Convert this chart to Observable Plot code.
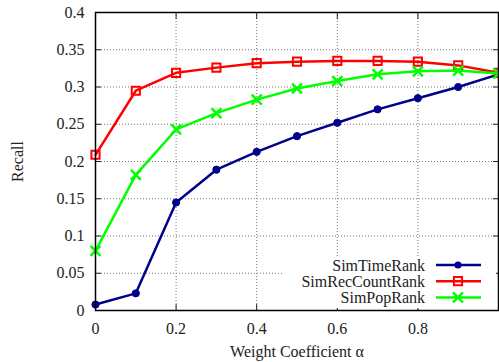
<!DOCTYPE html>
<html><head><meta charset="utf-8">
<script src="https://cdn.jsdelivr.net/npm/d3@7"></script>
<script src="https://cdn.jsdelivr.net/npm/@observablehq/plot@0.6"></script>
<style>
body{margin:0;background:#fff;}
#wrap{position:relative;width:499px;height:362px;font-family:"Liberation Serif","DejaVu Serif",serif;}
#wrap svg text{font-family:"Liberation Serif","DejaVu Serif",serif;}
</style></head>
<body><div id="wrap"></div>
<script>
const alphas = [0, 0.1, 0.2, 0.3, 0.4, 0.5, 0.6, 0.7, 0.8, 0.9, 1.0];
const simTimeRank = [0.008, 0.023, 0.145, 0.189, 0.213, 0.234, 0.252, 0.270, 0.285, 0.300, 0.317];
const simRecCountRank = [0.209, 0.295, 0.319, 0.326, 0.332, 0.334, 0.335, 0.335, 0.334, 0.329, 0.319];
const simPopRank = [0.080, 0.182, 0.243, 0.265, 0.283, 0.298, 0.308, 0.317, 0.321, 0.322, 0.318];
const seriesNames = ["SimTimeRank", "SimRecCountRank", "SimPopRank"];
const colors = ["#00008b", "#ff0000", "#00ff00"];
const symbols = ["circle", "square", "times"];
const xTicks = [0, 0.2, 0.4, 0.6, 0.8];
const yTicks = [0, 0.05, 0.1, 0.15, 0.2, 0.25, 0.3, 0.35, 0.4];

const allSeries = [simTimeRank, simRecCountRank, simPopRank];
const data = [];
allSeries.forEach((vals, si) => vals.forEach((v, i) => data.push({series: seriesNames[si], x: alphas[i], y: v})));

const fmt = d => String(Math.round(d * 100) / 100);
const font = '"Liberation Serif","DejaVu Serif",serif';

const markFor = (name, i) => {
  const d = data.filter(r => r.series === name);
  const c = colors[i];
  const marks = [Plot.line(d, {x: "x", y: "y", stroke: c, strokeWidth: 2.5})];
  if (symbols[i] === "circle") marks.push(Plot.dot(d, {x: "x", y: "y", fill: c, r: 3.6, stroke: c, strokeWidth: 1}));
  else if (symbols[i] === "square") marks.push(Plot.dot(d, {x: "x", y: "y", symbol: "square", stroke: c, fill: "none", r: 4.6, strokeWidth: 2}));
  else marks.push(Plot.dot(d, {x: "x", y: "y", symbol: "times", stroke: c, r: 4.6, strokeWidth: 2.5}));
  return marks;
};

const chart = Plot.plot({
  width: 499, height: 362,
  marginLeft: 95, marginRight: 1, marginTop: 12, marginBottom: 52,
  style: {fontFamily: font, fontSize: "16px", color: "#222", background: "#fff"},
  x: {domain: [0, 1]},
  y: {domain: [0, 0.4]},
  marks: [
    Plot.gridX(xTicks.concat([1]).slice(1), {stroke: "#777", strokeOpacity: 1, strokeDasharray: "1,2"}),
    Plot.gridY(yTicks.slice(1, -1), {stroke: "#777", strokeOpacity: 1, strokeDasharray: "1,2"}),
    Plot.axisX(xTicks, {anchor: "bottom", tickSize: 0, tickPadding: 12, tickFormat: fmt, label: "Weight Coefficient α", labelAnchor: "center", labelOffset: 46, labelArrow: "none", fontSize: 16, fontFamily: font}),
    Plot.axisX(xTicks, {anchor: "bottom", tickSize: -6, tickFormat: () => "", label: null}),
    Plot.axisX(xTicks, {anchor: "top", tickSize: -6, tickFormat: () => "", label: null}),
    Plot.axisY(yTicks, {anchor: "left", tickSize: 0, tickPadding: 11, tickFormat: fmt, label: "Recall", labelAnchor: "center", labelOffset: 84, labelArrow: "none", fontSize: 16, fontFamily: font}),
    Plot.axisY(yTicks, {anchor: "left", tickSize: -6, tickFormat: () => "", label: null}),
    Plot.axisY(yTicks, {anchor: "right", tickSize: -6, tickFormat: () => "", label: null}),
    ...seriesNames.flatMap((n, i) => markFor(n, i)),
    Plot.frame({stroke: "#000", strokeWidth: 1.5})
  ]
});
document.getElementById("wrap").appendChild(chart);

// Legend overlay (inside bottom-right of plot frame)
const ns = "http://www.w3.org/2000/svg";
const lg = document.createElementNS(ns, "svg");
lg.setAttribute("width", 499); lg.setAttribute("height", 362);
lg.style.position = "absolute"; lg.style.left = "0"; lg.style.top = "0";
const bg = document.createElementNS(ns, "rect");
bg.setAttribute("x", 283); bg.setAttribute("y", 257); bg.setAttribute("width", 213); bg.setAttribute("height", 51);
bg.setAttribute("fill", "#fff");
lg.appendChild(bg);
seriesNames.forEach((n, i) => {
  const yy = 265 + i * 16.2;
  const t = document.createElementNS(ns, "text");
  t.setAttribute("x", 425); t.setAttribute("y", yy); t.setAttribute("text-anchor", "end");
  t.setAttribute("dominant-baseline", "central");
  t.setAttribute("font-family", font); t.setAttribute("font-size", 16); t.setAttribute("fill", "#222");
  t.textContent = n;
  lg.appendChild(t);
  const l = document.createElementNS(ns, "line");
  l.setAttribute("x1", 436); l.setAttribute("x2", 481); l.setAttribute("y1", yy); l.setAttribute("y2", yy);
  l.setAttribute("stroke", colors[i]); l.setAttribute("stroke-width", 2.5);
  lg.appendChild(l);
  const s = document.createElementNS(ns, "path");
  s.setAttribute("transform", `translate(458,${yy})`);
  const sym = symbols[i] === "circle" ? d3.symbolCircle : symbols[i] === "square" ? d3.symbolSquare : d3.symbolTimes;
  s.setAttribute("d", d3.symbol(sym, Math.PI * 4.6 * 4.6)());
  if (symbols[i] === "circle") { s.setAttribute("d", d3.symbol(sym, Math.PI * 3.6 * 3.6)()); s.setAttribute("fill", colors[i]); }
  else { s.setAttribute("fill", "none"); s.setAttribute("stroke", colors[i]); s.setAttribute("stroke-width", symbols[i] === "square" ? 2 : 2.5); }
  lg.appendChild(s);
});
document.getElementById("wrap").appendChild(lg);
</script></body></html>
